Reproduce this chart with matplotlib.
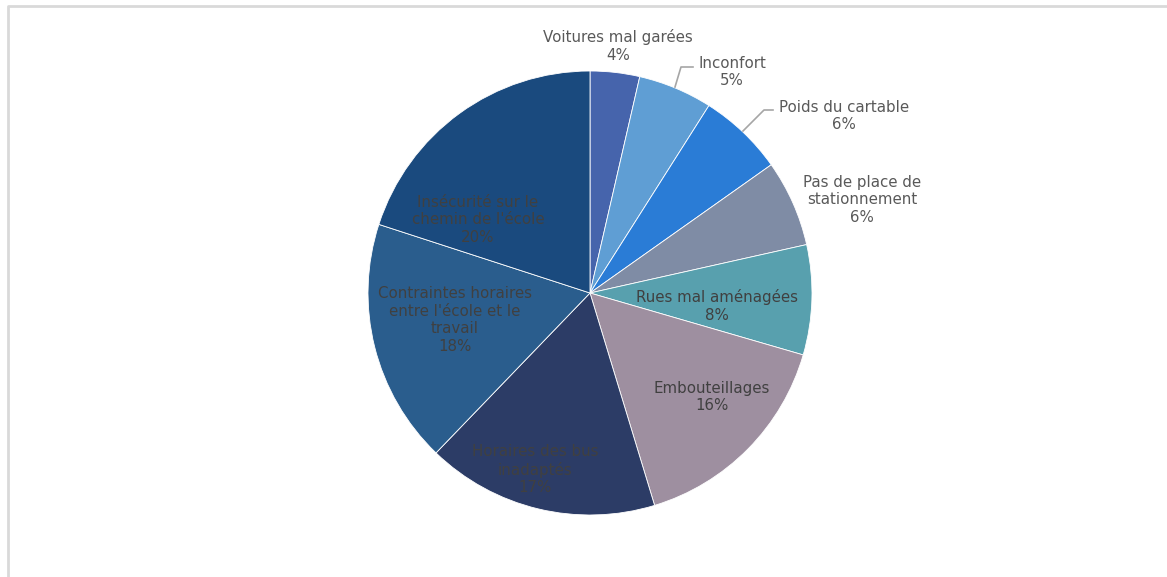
import numpy as np
import matplotlib.pyplot as plt

W, H = 1167, 577

labels = ["Voitures mal garées", "Inconfort", "Poids du cartable",
          "Pas de place de\nstationnement", "Rues mal aménagées", "Embouteillages",
          "Horaires des bus\ninadaptés", "Contraintes horaires\nentre l'école et le\ntravail",
          "Insécurité sur le\nchemin de l'école"]
values = [3.6, 5.4, 6.2, 6.3, 8.0, 15.8, 16.9, 17.8, 20.0]
colors = ["#4664AC", "#5F9ED4", "#2A7CD6", "#7F8CA5", "#58A0AE",
          "#9E8FA0", "#2C3C66", "#2A5D8D", "#1A4A7E"]

# label anchor positions in pixels (x, y from top)
label_pos = [(618, 46), (732, 72), (844, 116), (862, 200), (717, 306),
             (712, 397), (535, 470), (455, 320), (478, 220)]
label_col = ["#595959"] * 4 + ["#404040"] * 5

fig = plt.figure(figsize=(W / 100, H / 100), dpi=100)
ax = fig.add_axes([0, 0, 1, 1])

cx, cy, R = 590, 293, 222
ax.pie(values, colors=colors, startangle=90, counterclock=False,
       center=(cx, H - cy), radius=R, frame=True,
       wedgeprops=dict(edgecolor="white", linewidth=0.6))
ax.set_xlim(0, W)
ax.set_ylim(0, H)
ax.set_aspect("equal")
ax.axis("off")

for lab, v, (x, y), c in zip(labels, values, label_pos, label_col):
    ax.text(x, H - y, f"{lab}\n{v:.0f}%", ha="center", va="center",
            fontsize=10.8, color=c, linespacing=1.2, family="DejaVu Sans")

# leader lines
ax.plot([675, 681, 693], [H - 87, H - 67, H - 67], color="#A6A6A6", lw=1.2)
ax.plot([743, 764, 773], [H - 131, H - 110, H - 110], color="#A6A6A6", lw=1.2)

# chart border
ax.plot([8, 8, W + 5], [-5, H - 6, H - 6], color="#D9D9D9", lw=2)

fig.savefig("out.png", dpi=100, facecolor="white")
